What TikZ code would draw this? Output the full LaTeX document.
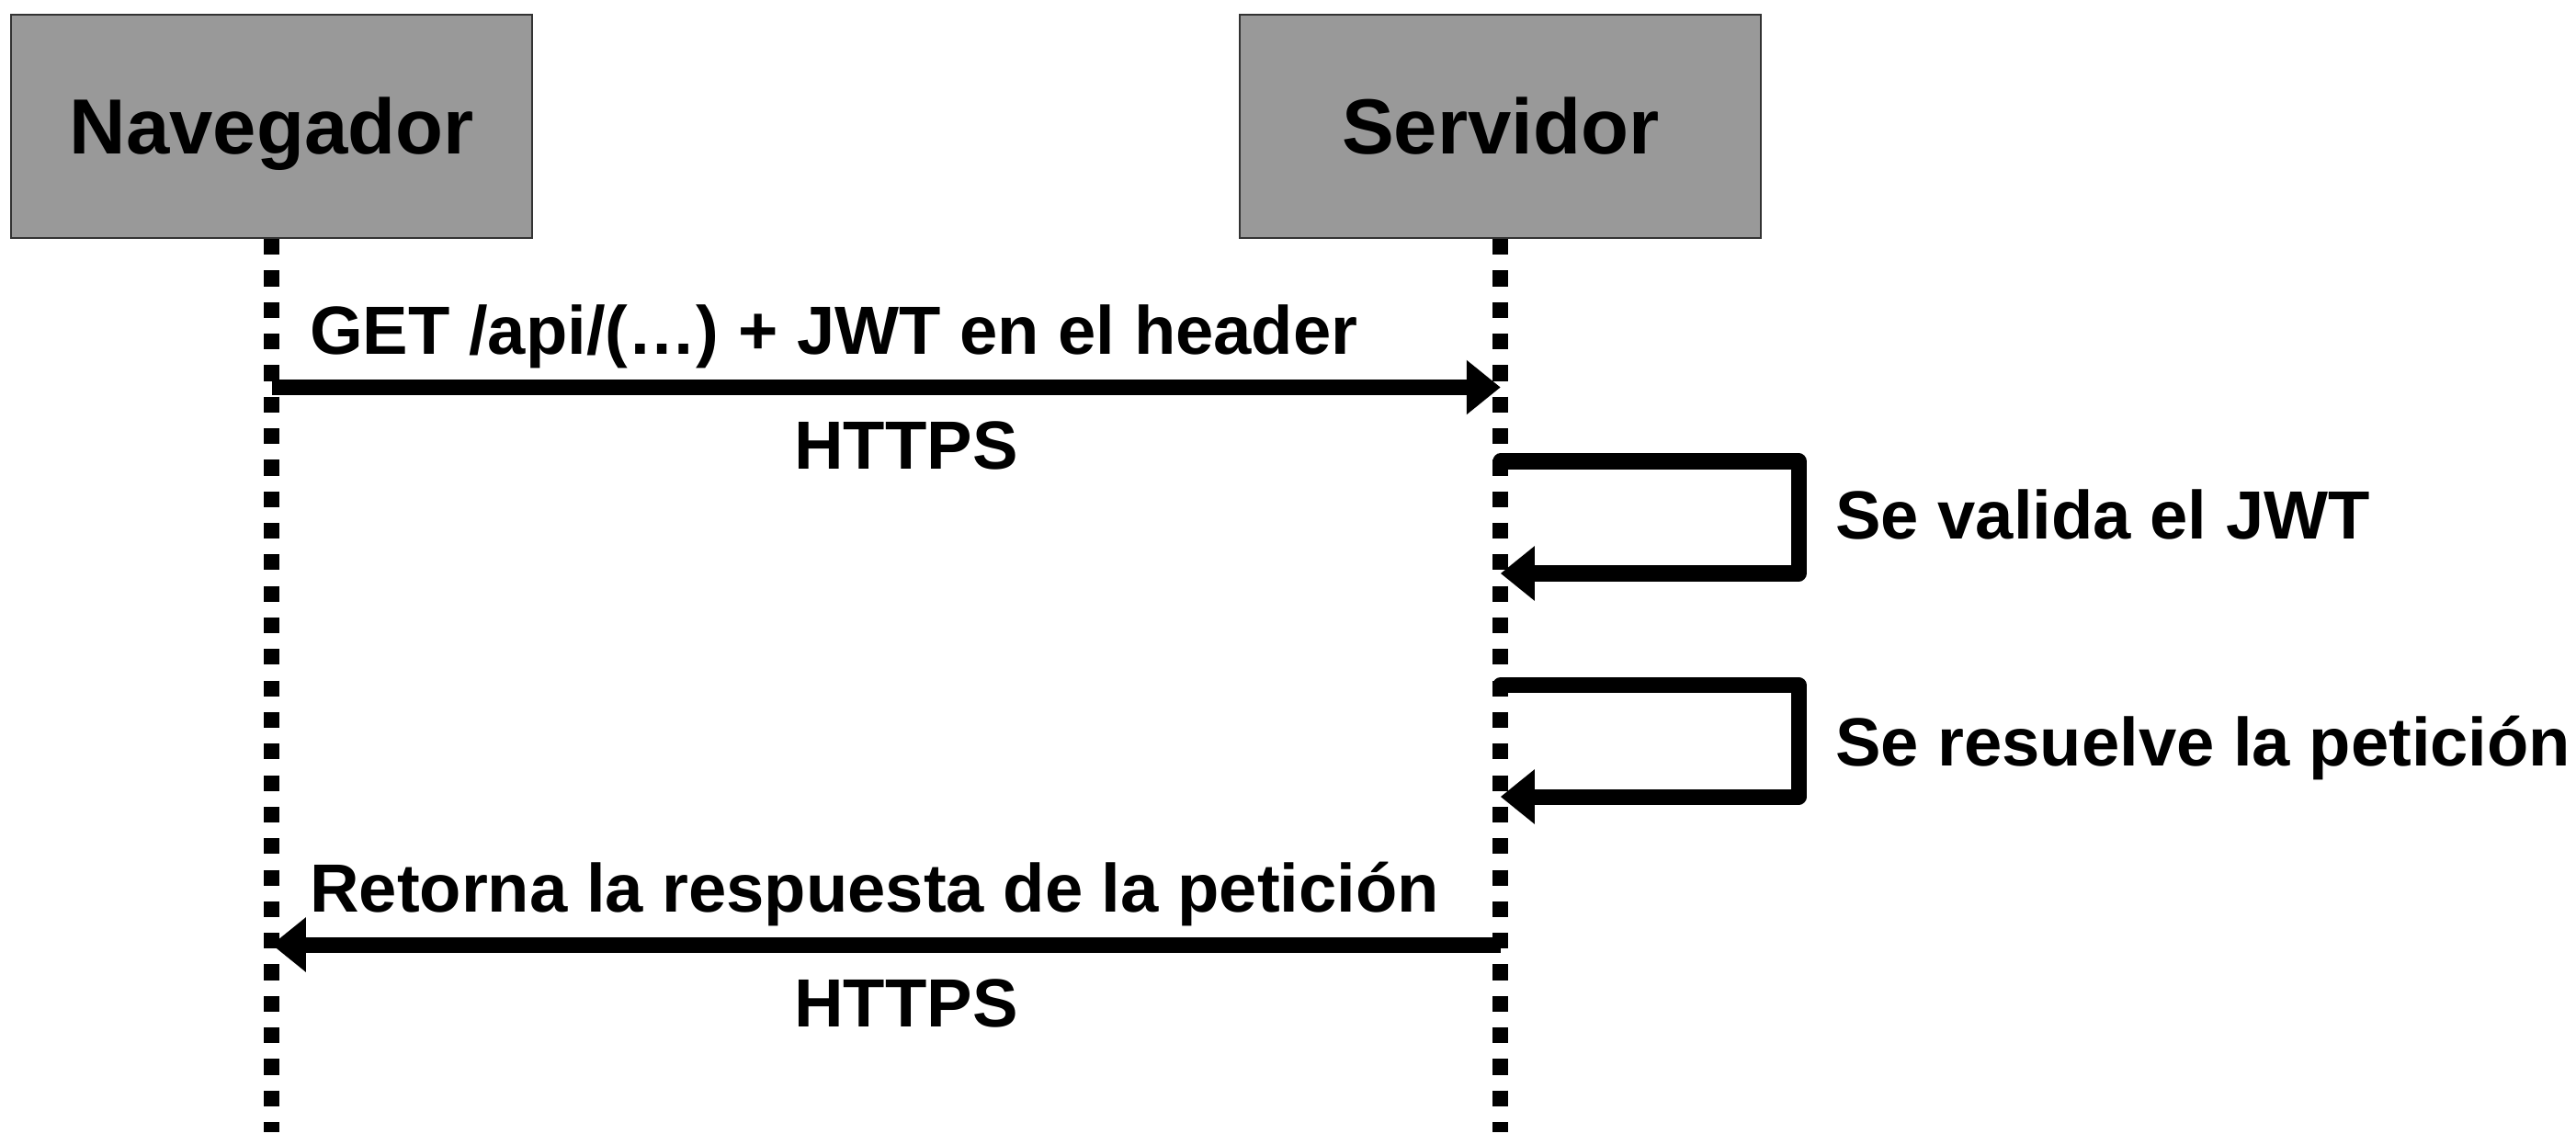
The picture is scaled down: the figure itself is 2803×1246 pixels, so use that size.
\documentclass[tikz,border=0pt]{standalone}
\usepackage{fontspec}
\setmainfont{Liberation Sans}
\usetikzlibrary{arrows.meta}
\begin{document}
\begin{tikzpicture}[x=0.01cm,y=-0.01cm,
  actor/.style={draw=black!80, line width=0.6pt, fill=black!40, minimum width=5.665cm, minimum height=2.43cm, inner sep=0pt, font=\fontsize{24.2}{28}\selectfont\bfseries, text height=17.3pt, text depth=0pt},
  lifeline/.style={line width=0.17cm, dash pattern=on 0.1715cm off 0.1715cm},
  msg/.style={line width=0.17cm, -{Triangle[length=0.37cm,width=0.57cm]}},
  selfmsg/.style={msg, line join=round, line cap=round},
  lbl/.style={inner sep=0pt, font=\fontsize{21.1}{25}\selectfont\bfseries}]
\useasboundingbox (0,0) rectangle (2803,1246);
% actors
\node[actor] (nav) at (295.75,137.5) {Navegador};
\node[actor] (srv) at (1632.75,137.5) {Servidor};
% lifelines
\coordinate (navend) at (295.75,1232);
\coordinate (srvend) at (1632.75,1232);
\draw[lifeline] (nav.south) -- (navend);
\draw[lifeline] (srv.south) -- (srvend);
% request
\coordinate (a1s) at (295.75,421.5);
\coordinate (a1e) at (1632.75,421.5);
\draw[msg] (a1s) -- (a1e);
\node[lbl, anchor=base west] (a1lbl) at (336.5,386) {GET /api/(…) + JWT en el header};
\node[lbl, anchor=base] (a1proto) at (986,511) {HTTPS};
% self message 1
\coordinate (l1s) at (1632.75,502);
\coordinate (l1a) at (1957,502);
\coordinate (l1b) at (1957,624);
\coordinate (l1e) at (1632.75,624);
\draw[selfmsg] (l1s) -- (l1a) -- (l1b) -- (l1e);
\node[lbl, anchor=base west] (l1lbl) at (1996.5,586) {Se valida el JWT};
% self message 2
\coordinate (l2s) at (1632.75,745.5);
\coordinate (l2a) at (1957,745.5);
\coordinate (l2b) at (1957,867);
\coordinate (l2e) at (1632.75,867);
\draw[selfmsg] (l2s) -- (l2a) -- (l2b) -- (l2e);
\node[lbl, anchor=base west] (l2lbl) at (1996.5,833.5) {Se resuelve la petición};
% response
\coordinate (a2s) at (1632.75,1028);
\coordinate (a2e) at (295.75,1028);
\draw[msg] (a2s) -- (a2e);
\node[lbl, anchor=base west] (a2lbl) at (336.5,992.5) {Retorna la respuesta de la petición};
\node[lbl, anchor=base] (a2proto) at (986,1117.5) {HTTPS};
\end{tikzpicture}
\end{document}
